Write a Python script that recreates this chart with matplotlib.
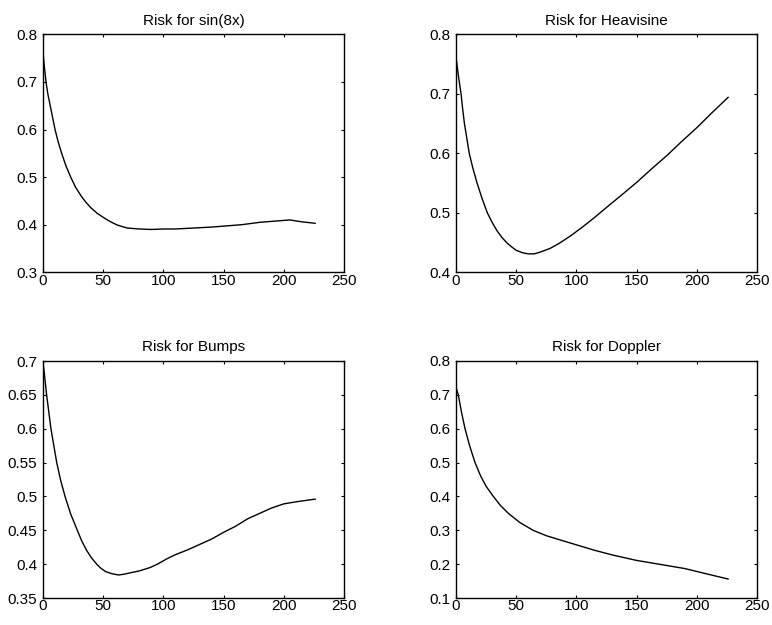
import matplotlib
matplotlib.use("Agg")
import matplotlib.pyplot as plt
from matplotlib.ticker import FuncFormatter

plt.rcParams['font.family'] = ['Liberation Sans', 'DejaVu Sans']

titles = ["Risk for sin(8x)", "Risk for Heavisine", "Risk for Bumps", "Risk for Doppler"]

sin_x = [0, 1, 2.5, 4, 6, 8, 10, 12.5, 15.5, 19, 23, 27, 32, 36, 40, 45, 51.5, 57, 62, 70, 80, 90, 100, 110, 125, 140, 150, 165, 180, 195, 205, 215, 226]
sin_y = [0.762, 0.735, 0.70, 0.675, 0.65, 0.625, 0.60, 0.575, 0.55, 0.524, 0.50, 0.479, 0.459, 0.446, 0.435, 0.424, 0.413, 0.405, 0.399, 0.393, 0.391, 0.390, 0.391, 0.391, 0.393, 0.395, 0.397, 0.400, 0.405, 0.408, 0.410, 0.406, 0.403]

heav_x = [0, 2, 4.2, 5.5, 7, 9, 11, 14, 17.5, 21.5, 26, 30, 34, 38, 42, 46, 50, 55, 60, 65, 70, 78, 86, 95, 105, 115, 125, 137, 150, 162, 175, 187, 200, 212, 226]
heav_y = [0.762, 0.73, 0.70, 0.675, 0.65, 0.625, 0.60, 0.575, 0.55, 0.525, 0.50, 0.484, 0.47, 0.459, 0.45, 0.443, 0.437, 0.433, 0.431, 0.431, 0.434, 0.440, 0.449, 0.461, 0.476, 0.492, 0.509, 0.529, 0.551, 0.573, 0.596, 0.619, 0.643, 0.667, 0.694]

bumps_x = [0, 1.5, 3, 4.8, 6.6, 9, 11.4, 14.5, 18.3, 23, 28.5, 32, 36, 40, 44.6, 48, 52, 57, 62.6, 67, 72, 80, 89, 95, 103, 110, 120, 130, 140, 150, 160, 170, 180, 190, 200, 210, 226]
bumps_y = [0.699, 0.675, 0.65, 0.625, 0.60, 0.575, 0.55, 0.525, 0.50, 0.474, 0.45, 0.435, 0.421, 0.41, 0.40, 0.394, 0.389, 0.386, 0.384, 0.385, 0.387, 0.390, 0.395, 0.400, 0.408, 0.414, 0.421, 0.429, 0.437, 0.447, 0.456, 0.467, 0.475, 0.483, 0.489, 0.492, 0.496]

dop_x = [0, 1.9, 4.5, 7.5, 11.3, 15.8, 20.5, 25, 31, 37, 43.5, 53, 64, 75, 86, 100, 115, 130, 150, 170, 190, 205, 226]
dop_y = [0.722, 0.70, 0.65, 0.60, 0.55, 0.50, 0.46, 0.43, 0.40, 0.373, 0.35, 0.323, 0.30, 0.284, 0.272, 0.257, 0.241, 0.227, 0.211, 0.199, 0.187, 0.174, 0.156]

xticks = [0, 50, 100, 150, 200, 250]
yticks_list = [
    [0.3, 0.4, 0.5, 0.6, 0.7, 0.8],
    [0.4, 0.5, 0.6, 0.7, 0.8],
    [0.35, 0.4, 0.45, 0.5, 0.55, 0.6, 0.65, 0.7],
    [0.1, 0.2, 0.3, 0.4, 0.5, 0.6, 0.7, 0.8],
]
series = [(sin_x, sin_y), (heav_x, heav_y), (bumps_x, bumps_y), (dop_x, dop_y)]

W, H = 772, 625
fig = plt.figure(figsize=(W / 100, H / 100), dpi=100)
lefts = [43, 456]
tops = [34.3, 361]
bottoms = [272.3, 598]
aw = 301

def fmt(v, pos):
    return ("%.2f" % v).rstrip('0').rstrip('.')

for i in range(4):
    r, c = divmod(i, 2)
    l = lefts[c] / W
    b = 1 - bottoms[r] / H
    h = (bottoms[r] - tops[r]) / H
    ax = fig.add_axes([l, b, aw / W, h])
    x, y = series[i]
    ax.plot(x, y, color='black', lw=1.0)
    ax.set_xlim(0, 250)
    yt = yticks_list[i]
    ax.set_ylim(yt[0], yt[-1])
    ax.set_xticks(xticks)
    ax.set_yticks(yt)
    ax.yaxis.set_major_formatter(FuncFormatter(fmt))
    ax.tick_params(direction='in', top=True, right=True, length=2.2, width=0.8,
                   labelsize=11, colors='black')
    ax.tick_params(axis='x', pad=1)
    ax.tick_params(axis='y', pad=4)
    for sp in ax.spines.values():
        sp.set_linewidth(1.0)
    ax.set_title(titles[i], fontsize=11, pad=7)

fig.savefig("out.png", dpi=100)
